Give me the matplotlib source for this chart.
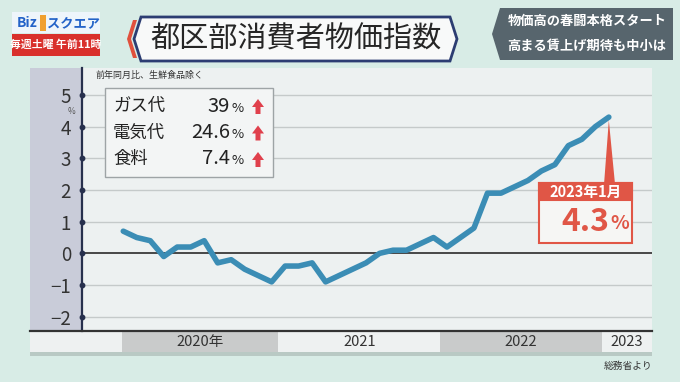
import numpy as np
import matplotlib.pyplot as plt
from matplotlib.patches import Rectangle, Polygon, FancyArrow

plt.rcParams['font.family'] = ['Noto Sans CJK JP', 'DejaVu Sans']

# 都区部消費者物価指数 (前年同月比, 生鮮食品除く) 2020年1月 - 2023年1月
cpi_2020 = [0.7, 0.5, 0.4, -0.1, 0.2, 0.2, 0.4, -0.3, -0.2, -0.5, -0.7, -0.9]
cpi_2021 = [-0.4, -0.4, -0.3, -0.9, -0.7, -0.5, -0.3, 0.0, 0.1, 0.1, 0.3, 0.5]
cpi_2022 = [0.2, 0.5, 0.8, 1.9, 1.9, 2.1, 2.3, 2.6, 2.8, 3.4, 3.6, 4.0]
cpi_2023 = [4.3]
year_labels = ['2020年', '2021', '2022', '2023']
yticks = [-2, -1, 0, 1, 2, 3, 4, 5]
items = ['ガス代', '電気代', '食料']
item_vals = ['39', '24.6', '7.4']
latest_label = '2023年1月'

values = cpi_2020 + cpi_2021 + cpi_2022 + cpi_2023
months = np.arange(len(values))

W, H = 680, 382
fig = plt.figure(figsize=(6.8, 3.82), dpi=100)
fig.patch.set_facecolor('#d8ece6')

# background layer, pixel coords
bg = fig.add_axes([0, 0, 1, 1], zorder=0)
bg.set_xlim(0, W)
bg.set_ylim(H, 0)
bg.axis('off')
bg.add_patch(Rectangle((30, 68), 52, 263, fc='#c9ccd9', ec='none'))
bg.add_patch(Rectangle((30, 352), 622, 4, fc='#b9c9c4', ec='none'))

# main chart
ax = fig.add_axes([82 / W, 1 - 331 / H, 570 / W, 263 / H], zorder=1)
ax.set_facecolor('#edf1f1')
ax.set_xlim(-3.06, 39.2)
ax.set_ylim(-2.45, 5.85)

for v in yticks:
    if v == 0:
        ax.axhline(v, color='#3a3a3a', lw=1.3, zorder=2)
    else:
        ax.axhline(v, color='#c5caca', lw=1.0, zorder=1)

ax.plot(months, values, color='#3b8db5', lw=4.0, solid_joinstyle='round',
        solid_capstyle='round', zorder=4)

for s in ['top', 'right', 'bottom']:
    ax.spines[s].set_visible(False)
ax.spines['left'].set_color('#27304d')
ax.spines['left'].set_linewidth(1.6)
ax.set_xticks([])
ax.set_yticks(yticks)
ax.set_yticklabels([str(v).replace('-', '−') for v in yticks])
ax.tick_params(axis='y', length=0, pad=8, labelsize=13.5, labelcolor='#333333')
ax.plot([ax.get_xlim()[0]] * len(yticks), yticks, 'o', ms=3.2, color='#27304d',
        clip_on=False, zorder=6)

# year band under the chart
xt = ax.get_xaxis_transform()
edges = [-6.91, -0.1, 11.5, 23.5, 35.5, 39.2]
band_cols = ['#eef1f1', '#c9cbcb', '#eef1f1', '#c9cbcb', '#eef1f1']
for i in range(len(band_cols)):
    ax.add_patch(Rectangle((edges[i], -0.08), edges[i + 1] - edges[i], 0.08,
                           transform=xt, fc=band_cols[i], ec='none', clip_on=False))
for i, lab in enumerate(year_labels):
    ax.text((edges[i + 1] + edges[i + 2]) / 2, -0.04, lab, transform=xt,
            ha='center', va='center', fontsize=10.5, color='#333333')
ax.plot([edges[0], edges[-1]], [0, 0], transform=xt, color='#333333', lw=1.6,
        clip_on=False, zorder=5)

# latest value callout
x_end, y_end = months[-1], values[-1]
red = '#e05646'
ax.add_patch(Polygon([(x_end, y_end - 0.1), (x_end - 0.35, 2.22), (x_end + 0.45, 2.22)],
                     closed=True, fc=red, ec='none', zorder=6))
ax.add_patch(Rectangle((x_end - 5.2, 0.33), 6.95, 1.89, fc='#f6f6f4', ec=red,
                       lw=1.5, zorder=6))
ax.add_patch(Rectangle((x_end - 5.2, 1.68), 6.95, 0.54, fc=red, ec=red,
                       lw=1.5, zorder=7))
ax.text(x_end - 1.72, 1.95, latest_label, ha='center', va='center', fontsize=10.5,
        fontweight='bold', color='white', zorder=8)
ax.text(x_end + 0.05, 0.99, f'{y_end}', ha='right', va='center', fontsize=23,
        fontweight='bold', color=red, zorder=8)
ax.text(x_end + 0.15, 0.93, '%', ha='left', va='center', fontsize=14,
        fontweight='bold', color=red, zorder=8)

# foreground layer, pixel coords
fg = fig.add_axes([0, 0, 1, 1], zorder=10)
fg.patch.set_alpha(0)
fg.set_xlim(0, W)
fg.set_ylim(H, 0)
fg.axis('off')

fg.text(95, 75, '前年同月比、生鮮食品除く', fontsize=6.5, color='#333333',
        ha='left', va='center')
fg.text(71, 111, '%', fontsize=6, color='#555555', ha='center', va='center')
fg.text(652, 366, '総務省より', fontsize=7, color='#333333', ha='right', va='center')

# legend box
fg.add_patch(Rectangle((105, 88), 168, 89, fc='#f3f5f5', ec='#9ea4a6', lw=1))
for i, (name, val) in enumerate(zip(items, item_vals)):
    yy = 106 + i * 26.5
    fg.text(113, yy, name, fontsize=12.5, color='#222222', ha='left', va='center')
    fg.text(230, yy, val, fontsize=14.5, color='#222222', ha='right', va='center')
    fg.text(231, yy + 2, '%', fontsize=9.5, color='#222222', ha='left', va='center')
    fg.add_patch(FancyArrow(258, yy + 8, 0, -7, width=5, head_width=12,
                            head_length=8, length_includes_head=False,
                            fc='#e0404c', ec='none'))

# header: logo
fg.add_patch(Rectangle((12, 12), 88, 21, fc='#eef5fb', ec='none'))
fg.text(17, 23, 'Biz', fontsize=10, fontweight='bold', color='#2463c8',
        ha='left', va='center')
fg.add_patch(Rectangle((40, 15), 6, 16, fc='#f0a030', ec='none'))
fg.text(73, 23, 'スクエア', fontsize=9.5, fontweight='bold', color='#2463c8',
        ha='center', va='center')
fg.add_patch(Rectangle((12, 34), 88, 22, fc='#d9302c', ec='none'))
fg.text(56, 45, '毎週土曜 午前11時', fontsize=7.8, fontweight='bold', color='white',
        ha='center', va='center')

# header: title
fg.add_patch(Polygon([(141, 17), (450, 17), (457, 39), (450, 61), (141, 61), (134, 39)],
                     closed=True, fc='#f8f9f9', ec='#2c3d72', lw=2))
fg.add_patch(Polygon([(137, 20), (131, 39), (137, 58), (133, 58), (127, 39), (133, 20)],
                     closed=True, fc='#e0503c', ec='none'))
fg.text(296, 40, '都区部消費者物価指数', fontsize=21, color='#262626',
        ha='center', va='center')

# header: right box
fg.add_patch(Polygon([(500, 8), (673, 8), (673, 60), (500, 60), (492, 34)],
                     closed=True, fc='#57656d', ec='none'))
fg.text(587, 21, '物価高の春闘本格スタート', fontsize=9.5, fontweight='bold',
        color='white', ha='center', va='center')
fg.text(587, 46, '高まる賃上げ期待も中小は', fontsize=9.5, fontweight='bold',
        color='white', ha='center', va='center')

fig.savefig('out.png', dpi=100, facecolor=fig.get_facecolor())
